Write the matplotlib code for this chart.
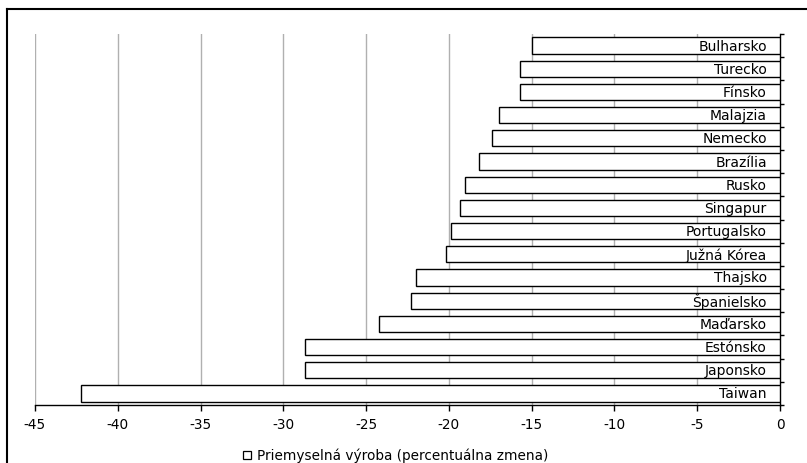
import matplotlib
matplotlib.use("Agg")
import matplotlib.pyplot as plt
from matplotlib.lines import Line2D
from matplotlib.patches import Rectangle

plt.rcParams['font.family'] = ['DejaVu Sans']

countries = ["Bulharsko", "Turecko", "Fínsko", "Malajzia", "Nemecko", "Brazília",
             "Rusko", "Singapur", "Portugalsko", "Južná Kórea", "Thajsko",
             "Španielsko", "Maďarsko", "Estónsko", "Japonsko", "Taiwan"]
values = [-15.0, -15.7, -15.7, -17.0, -17.4, -18.2, -19.0, -19.3, -19.9, -20.2,
          -22.0, -22.3, -24.2, -28.7, -28.7, -42.2]
xticks = [-45, -40, -35, -30, -25, -20, -15, -10, -5, 0]
legend_label = "Priemyselná výroba (percentuálna zmena)"

W, H = 807, 464
fig = plt.figure(figsize=(W / 100, H / 100), dpi=100)
ax = fig.add_axes([35 / W, 1 - 406 / H, (780 - 35) / W, (406 - 35) / H])

n = len(countries)
ypos = [n - 1 - i for i in range(n)]
ax.barh(ypos, values, height=0.7, color="white", edgecolor="black",
        linewidth=1.0, zorder=3)
for y, name in zip(ypos, countries):
    ax.text(-0.8, y, name, ha="right", va="center", fontsize=10, zorder=4)

ax.set_xlim(-45, 0)
ax.set_ylim(-0.5, n - 0.5)
ax.set_xticks(xticks)
ax.set_xticklabels([str(v) for v in xticks], fontsize=9.8)
for v in xticks[:-1]:
    ax.axvline(v, color="#b0b0b0", linewidth=1.0, zorder=1)

ax.spines["top"].set_visible(False)
ax.spines["left"].set_visible(False)
ax.spines["right"].set_color("black")
ax.spines["bottom"].set_color("black")
ax.spines["right"].set_linewidth(1.0)
ax.spines["bottom"].set_linewidth(1.0)
ax.yaxis.tick_right()
ax.set_yticks([])
ax.set_yticks([i - 0.5 for i in range(n + 1)], minor=True)
ax.tick_params(axis="y", which="minor", length=3, width=1, direction="out",
               right=True, left=False)
ax.tick_params(axis="x", length=4, width=1, direction="out", pad=5)

# legend
ax_leg = fig.add_axes([0, 0, 1, 1], facecolor="none")
ax_leg.set_xlim(0, W)
ax_leg.set_ylim(H, 0)
ax_leg.axis("off")
ax_leg.add_patch(Rectangle((243, 452), 8, 8, facecolor="white",
                           edgecolor="black", linewidth=0.9))
ax_leg.text(257, 456, legend_label, ha="left", va="center", fontsize=9.8)

# outer frame
ax_leg.add_line(Line2D([7, W], [10, 10], color="black", linewidth=1.5))
ax_leg.add_line(Line2D([7, 7], [10, H], color="black", linewidth=1.5))

fig.savefig("out.png", dpi=100)
